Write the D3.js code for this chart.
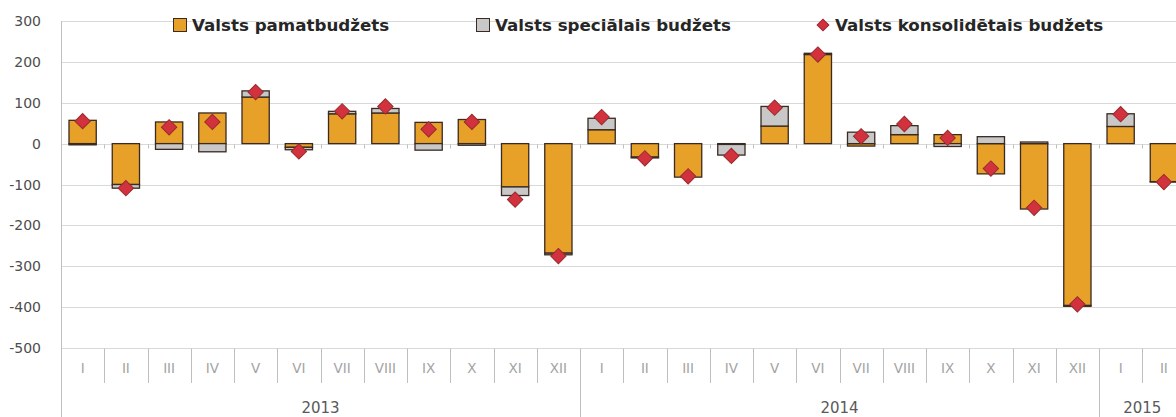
<!DOCTYPE html>
<html>
<head>
<meta charset="utf-8">
<script src="https://cdn.jsdelivr.net/npm/d3@7"></script>
<style>
  body { margin: 0; background: #fff; }
  svg { display: block; }
</style>
</head>
<body>
<div id="chart"></div>
<script>
'use strict';

// data (milj. EUR)
const months = ['I', 'II', 'III', 'IV', 'V', 'VI', 'VII', 'VIII', 'IX', 'X', 'XI', 'XII',
  'I', 'II', 'III', 'IV', 'V', 'VI', 'VII', 'VIII', 'IX', 'X', 'XI', 'XII',
  'I', 'II'];
const years = ['2013', '2014', '2015'];
const yearMonths = [12, 12, 2];
const pamatbudzets = [57, -100, 53, 75, 114, -9, 73, 75, 52, 59, -106, -268,
  34, -33, -82, -2, 43, 218, -6, 22, 22, -74, -160, -396,
  42, -93];
const specialais = [-3, -9, -14, -20, 15, -6, 6, 11, -16, -4, -21, -4,
  28, -2, 0, -26, 48, 3, 28, 22, -7, 17, 4, -2,
  31, -1];
const konsolidetais = [55, -109, 40, 53, 126, -19, 79, 91, 35, 53, -137, -275,
  65, -36, -80, -30, 88, 218, 18, 48, 14, -61, -157, -393,
  72, -94];
const yTicks = [300, 200, 100, 0, -100, -200, -300, -400, -500];
const legendNames = ['Valsts pamatbudžets', 'Valsts speciālais budžets', 'Valsts konsolidētais budžets'];

const width = 1176;
const height = 417;
const left = 61;
const step = 43.25;
const colOrange = '#E7A128';
const colGray = '#C8C8C8';
const colRed = '#D1323D';

const dataset = months.map((m, i) => ({
  key: i,
  month: m,
  base: pamatbudzets[i],
  special: specialais[i],
  total: konsolidetais[i]
}));

const svg = d3.select('#chart')
  .append('svg')
    .attr('width', width)
    .attr('height', height);

const x = d3.scaleBand()
  .domain(dataset.map(d => d.key))
  .range([left, left + step * months.length])
  .paddingInner(0.37)
  .paddingOuter(0.185);

const y = d3.scaleLinear()
  .domain([-500, 300])
  .range([348, 21]);

// gridlines
svg.append('g')
  .selectAll('line')
  .data(yTicks)
  .enter()
  .append('line')
    .attr('x1', left)
    .attr('x2', width)
    .attr('y1', d => Math.round(y(d)) + 0.5)
    .attr('y2', d => Math.round(y(d)) + 0.5)
    .attr('stroke', '#D9D9D9')
    .attr('stroke-width', 1);

// y labels
svg.append('g')
  .selectAll('text')
  .data(yTicks)
  .enter()
  .append('text')
    .attr('x', 41)
    .attr('y', d => y(d) + 5)
    .attr('text-anchor', 'end')
    .attr('font-family', 'DejaVu Sans, sans-serif')
    .attr('font-size', 14)
    .attr('fill', '#4D4D4D')
    .text(d => d);

// tick marks on the zero line
const y0 = Math.round(y(0)) + 0.5;
svg.append('g')
  .selectAll('line')
  .data(d3.range(1, months.length + 1))
  .enter()
  .append('line')
    .attr('x1', i => Math.round(left + i * step) + 0.5)
    .attr('x2', i => Math.round(left + i * step) + 0.5)
    .attr('y1', y0)
    .attr('y2', y0 + 4)
    .attr('stroke', '#BFBFBF');

// stacked bars
const stack = d3.stack()
  .keys(['base', 'special'])
  .offset(d3.stackOffsetDiverging);
const series = stack(dataset);
const fills = { base: colOrange, special: colGray };

svg.append('g')
  .selectAll('g')
  .data(series)
  .enter()
  .append('g')
    .attr('fill', s => fills[s.key])
  .selectAll('rect')
  .data(s => s)
  .enter()
  .append('rect')
    .attr('x', d => x(d.data.key))
    .attr('width', x.bandwidth())
    .attr('y', d => y(Math.max(d[0], d[1])))
    .attr('height', d => Math.abs(y(d[0]) - y(d[1])))
    .attr('stroke', '#3A2A22')
    .attr('stroke-width', 1.3);

// consolidated diamonds
svg.append('g')
  .selectAll('path')
  .data(dataset)
  .enter()
  .append('path')
    .attr('d', d3.symbol(d3.symbolSquare, 118))
    .attr('transform', d => 'translate(' + (x(d.key) + x.bandwidth() / 2) + ',' + y(d.total) + ') rotate(45)')
    .attr('fill', colRed)
    .attr('stroke', '#9A2A2E')
    .attr('stroke-width', 1);

// category axis at the bottom
const axisY = Math.round(y(-500)) + 0.5;
const axis = svg.append('g').attr('stroke', '#BFBFBF').attr('stroke-width', 1);
axis.append('line')
  .attr('x1', left + 0.5).attr('x2', left + 0.5)
  .attr('y1', y(300)).attr('y2', height);

const yearStarts = [0];
yearMonths.forEach((n, i) => yearStarts.push(yearStarts[i] + n));

axis.selectAll('.msep')
  .data(d3.range(1, months.length + 1).filter(i => !yearStarts.includes(i)))
  .enter()
  .append('line')
    .attr('class', 'msep')
    .attr('x1', i => Math.round(left + i * step) + 0.5)
    .attr('x2', i => Math.round(left + i * step) + 0.5)
    .attr('y1', axisY)
    .attr('y2', 383);

axis.selectAll('.ysep')
  .data(yearStarts.slice(1))
  .enter()
  .append('line')
    .attr('class', 'ysep')
    .attr('x1', i => Math.round(left + i * step) + 0.5)
    .attr('x2', i => Math.round(left + i * step) + 0.5)
    .attr('y1', axisY)
    .attr('y2', height);

svg.append('g')
  .selectAll('text')
  .data(dataset)
  .enter()
  .append('text')
    .attr('x', d => x(d.key) + x.bandwidth() / 2)
    .attr('y', 373)
    .attr('text-anchor', 'middle')
    .attr('font-family', 'DejaVu Sans, sans-serif')
    .attr('font-size', 13.5)
    .attr('fill', '#A3A3A3')
    .text(d => d.month);

svg.append('g')
  .selectAll('text')
  .data(years)
  .enter()
  .append('text')
    .attr('x', (d, i) => left + step * (yearStarts[i] + yearMonths[i] / 2))
    .attr('y', 413)
    .attr('text-anchor', 'middle')
    .attr('font-family', 'DejaVu Sans, sans-serif')
    .attr('font-size', 15)
    .attr('fill', '#595959')
    .text(d => d);

// legend
const legend = svg.append('g')
  .attr('font-family', 'DejaVu Sans, sans-serif')
  .attr('font-size', 16.7)
  .attr('font-weight', 'bold')
  .attr('fill', '#262626');

const legendX = [173, 476, 816];
legend.selectAll('rect')
  .data([colOrange, colGray])
  .enter()
  .append('rect')
    .attr('x', (d, i) => legendX[i] + 0.5)
    .attr('y', 18.5)
    .attr('width', 13)
    .attr('height', 13)
    .attr('fill', d => d)
    .attr('stroke', '#3A2A22')
    .attr('stroke-width', 1);

legend.append('path')
  .attr('d', d3.symbol(d3.symbolSquare, 70))
  .attr('transform', 'translate(' + (legendX[2] + 7) + ',25) rotate(45)')
  .attr('fill', colRed)
  .attr('stroke', '#9A2A2E');

legend.selectAll('text')
  .data(legendNames)
  .enter()
  .append('text')
    .attr('x', (d, i) => legendX[i] + 19)
    .attr('y', 31)
    .text(d => d);
</script>
</body>
</html>
